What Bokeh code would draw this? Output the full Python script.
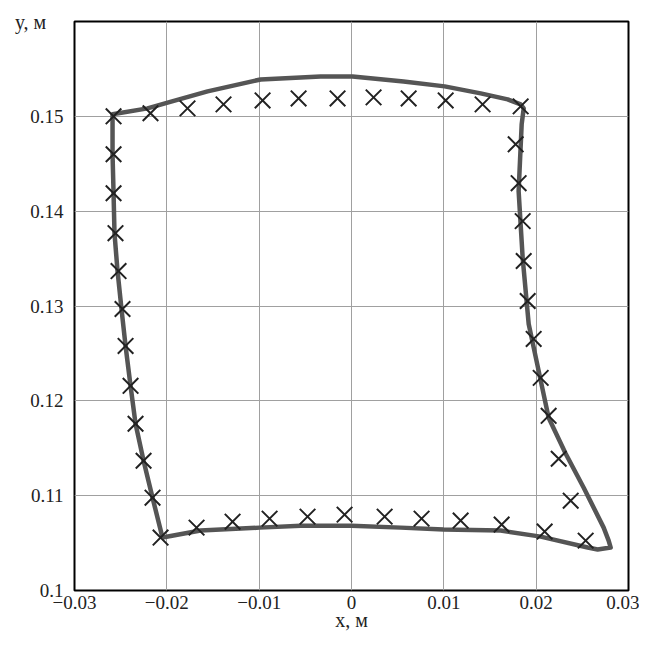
from bokeh.plotting import figure
from bokeh.models import FixedTicker
from bokeh.embed import file_html
from bokeh.resources import INLINE

# closed contour (line)
line_x = [-0.02047, -0.02155, -0.02252, -0.02339, -0.02393, -0.02447, -0.02491, -0.02534,
          -0.02567, -0.02577, -0.02588, -0.02588,
          -0.02209, -0.01982, -0.01559, -0.00985, -0.00335, 0.00012, 0.00564, 0.01009,
          0.01399, 0.01691, 0.01832, 0.01865,
          0.01843, 0.01810, 0.01854, 0.01919, 0.02027, 0.02135, 0.02320, 0.02515, 0.02731,
          0.02785, 0.02807, 0.02666, 0.02558, 0.02049, 0.01615, 0.00998, 0.00532, 0.00001,
          -0.00551, -0.00996, -0.01635, -0.02047]
line_y = [0.10558, 0.10979, 0.11368, 0.11758, 0.12158, 0.12579, 0.12968, 0.13368,
          0.13768, 0.14189, 0.14600, 0.15021,
          0.15084, 0.15147, 0.15263, 0.15389, 0.15421, 0.15421, 0.15368, 0.15316,
          0.15242, 0.15179, 0.15126, 0.15084,
          0.14916, 0.14211, 0.13505, 0.12811, 0.12316, 0.11821, 0.11442, 0.11084, 0.10663,
          0.10526, 0.10453, 0.10432, 0.10453, 0.10568, 0.10632, 0.10642, 0.10663, 0.10684,
          0.10684, 0.10663, 0.10632, 0.10558]

# measured points (crosses)
marker_x = [-0.02577, -0.02177, -0.01776, -0.01386, -0.00963, -0.00573, -0.00151, 0.00239,
            0.00619, 0.01020, 0.01420, 0.01832,
            0.01778, 0.01810, 0.01854, 0.01865, 0.01908, 0.01973, 0.02049, 0.02135,
            0.02244, 0.02374, 0.02536,
            0.02092, 0.01626, 0.01182, 0.00759, 0.00359, -0.00075, -0.00476, -0.00887,
            -0.01288, -0.01678, -0.02068,
            -0.02155, -0.02252, -0.02339, -0.02393, -0.02447, -0.02480, -0.02523,
            -0.02556, -0.02577, -0.02577]
marker_y = [0.15000, 0.15032, 0.15084, 0.15126, 0.15168, 0.15189, 0.15189, 0.15200,
            0.15189, 0.15168, 0.15126, 0.15105,
            0.14705, 0.14295, 0.13895, 0.13474, 0.13053, 0.12653, 0.12242, 0.11842,
            0.11389, 0.10947, 0.10526,
            0.10621, 0.10695, 0.10737, 0.10758, 0.10779, 0.10800, 0.10779, 0.10758,
            0.10726, 0.10663, 0.10558,
            0.10979, 0.11368, 0.11758, 0.12158, 0.12579, 0.12968, 0.13368,
            0.13768, 0.14189, 0.14600]

x_ticks = [-0.03, -0.02, -0.01, 0, 0.01, 0.02, 0.03]
x_tick_labels = ["\u22120.03", "\u22120.02", "\u22120.01", "0", "0.01", "0.02", "0.03"]
y_ticks = [0.1, 0.11, 0.12, 0.13, 0.14, 0.15]
y_tick_labels = ["0.1", "0.11", "0.12", "0.13", "0.14", "0.15"]
y_grid = [0.1, 0.11, 0.12, 0.13, 0.14, 0.15, 0.16]
x_name = "x, \u043c"
y_name = "y, \u043c"

FONT = "Liberation Serif"

p = figure(width=639, height=638, x_range=(-0.03, 0.03), y_range=(0.1, 0.16),
           output_backend="svg", toolbar_location=None,
           min_border_left=74, min_border_right=11, min_border_top=21, min_border_bottom=48)
p.background_fill_color = "white"
p.border_fill_color = "white"
p.outline_line_color = "black"
p.outline_line_width = 2

p.xaxis.ticker = FixedTicker(ticks=x_ticks)
p.yaxis.ticker = FixedTicker(ticks=y_ticks)
p.xgrid.ticker = FixedTicker(ticks=x_ticks)
p.ygrid.ticker = FixedTicker(ticks=y_grid)
p.xaxis.major_label_overrides = {v: s for v, s in zip(x_ticks, x_tick_labels)}
p.yaxis.major_label_overrides = {v: s for v, s in zip(y_ticks, y_tick_labels)}
for ax in (p.xaxis, p.yaxis):
    ax.axis_line_color = None
    ax.major_tick_line_color = None
    ax.minor_tick_line_color = None
    ax.major_tick_in = 0
    ax.major_tick_out = 0
    ax.major_label_text_font = FONT
    ax.major_label_text_font_size = "19px"
    ax.major_label_text_color = "#222222"
    ax.axis_label_text_font = FONT
    ax.axis_label_text_font_style = "normal"
    ax.axis_label_text_font_size = "20px"
    ax.axis_label_text_color = "#222222"
p.yaxis.major_label_standoff = 11
p.xaxis.major_label_standoff = 5
p.xaxis.axis_label = x_name
p.xaxis.axis_label_standoff = -3

yax = p.yaxis[0]
yax.axis_label = y_name
yax.axis_label_orientation = "horizontal"
yax.axis_label_align = "end"
yax.axis_label_standoff = -19

p.grid.grid_line_color = "#a0a0a0"
p.grid.grid_line_width = 1

p.line(line_x, line_y, line_color="#555555", line_width=4.5, line_join="round")
p.scatter(marker_x, marker_y, marker="x", size=22, line_color="#222222", line_width=2)

open("out.html", "w").write(file_html(p, INLINE))
